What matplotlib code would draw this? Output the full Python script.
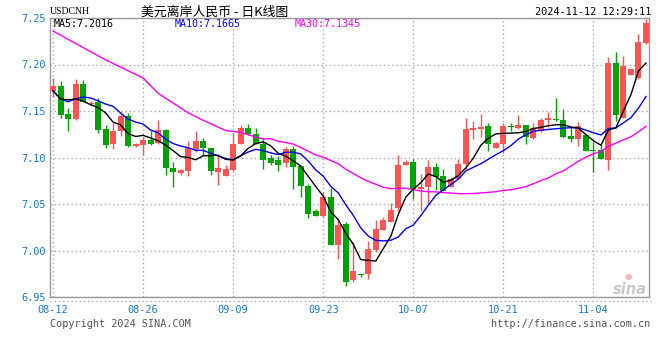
import matplotlib
matplotlib.use('Agg')
import matplotlib.pyplot as plt
from matplotlib.lines import Line2D
import pandas as pd

# daily OHLC, USD/CNH, 2024-08-12 .. 2024-11-12 (sina daily K, incl. saturdays)
opens = [7.171, 7.177, 7.147, 7.141, 7.179, 7.158, 7.160, 7.131, 7.115, 7.128,
         7.145, 7.112, 7.113, 7.119, 7.116, 7.130, 7.089, 7.083, 7.086, 7.109,
         7.118, 7.110, 7.084, 7.080, 7.087, 7.115, 7.132, 7.125, 7.115, 7.099,
         7.097, 7.094, 7.109, 7.091, 7.069, 7.043, 7.037, 7.057, 7.006, 7.029,
         6.968, 6.975, 6.975, 7.001, 7.022, 7.031, 7.046, 7.092, 7.095, 7.066,
         7.068, 7.090, 7.080, 7.068, 7.077, 7.093, 7.130, 7.131, 7.134, 7.110,
         7.115, 7.134, 7.132, 7.135, 7.121, 7.128, 7.140, 7.1405, 7.140, 7.123,
         7.120, 7.124, 7.108, 7.108, 7.097, 7.202, 7.142, 7.189, 7.185, 7.223]
highs = [7.186, 7.182, 7.153, 7.184, 7.183, 7.161, 7.164, 7.135, 7.137, 7.149,
         7.148, 7.116, 7.122, 7.128, 7.140, 7.131, 7.095, 7.088, 7.118, 7.129,
         7.121, 7.110, 7.103, 7.092, 7.126, 7.135, 7.136, 7.132, 7.120, 7.103,
         7.102, 7.111, 7.112, 7.091, 7.071, 7.045, 7.063, 7.067, 7.033, 7.031,
         7.009, 6.975, 7.010, 7.033, 7.036, 7.051, 7.103, 7.097, 7.098, 7.082,
         7.097, 7.094, 7.088, 7.079, 7.098, 7.143, 7.139, 7.147, 7.137, 7.117,
         7.137, 7.137, 7.146, 7.135, 7.137, 7.142, 7.149, 7.164, 7.152, 7.133,
         7.138, 7.124, 7.117, 7.114, 7.208, 7.213, 7.209, 7.195, 7.233, 7.249]
lows = [7.165, 7.143, 7.128, 7.140, 7.160, 7.156, 7.126, 7.110, 7.109, 7.123,
        7.111, 7.111, 7.103, 7.113, 7.114, 7.081, 7.068, 7.081, 7.080, 7.106,
        7.103, 7.081, 7.070, 7.080, 7.086, 7.114, 7.124, 7.114, 7.088, 7.092,
        7.086, 7.090, 7.066, 7.057, 7.035, 7.037, 7.036, 7.006, 6.991, 6.962,
        6.966, 6.972, 6.969, 6.998, 7.022, 7.031, 7.043, 7.092, 7.055, 7.043,
        7.050, 7.065, 7.064, 7.068, 7.077, 7.088, 7.120, 7.122, 7.107, 7.110,
        7.105, 7.129, 7.131, 7.114, 7.120, 7.127, 7.133, 7.139, 7.121, 7.117,
        7.112, 7.107, 7.084, 7.098, 7.087, 7.139, 7.142, 7.189, 7.184, 7.222]
closes = [7.177, 7.146, 7.141, 7.179, 7.160, 7.1585, 7.130, 7.113, 7.129, 7.145,
          7.112, 7.114, 7.119, 7.115, 7.130, 7.089, 7.084, 7.087, 7.110, 7.118,
          7.110, 7.085, 7.089, 7.088, 7.115, 7.132, 7.125, 7.115, 7.097, 7.094,
          7.092, 7.109, 7.090, 7.069, 7.039, 7.037, 7.057, 7.006, 7.027, 6.966,
          6.978, 6.974, 7.002, 7.023, 7.033, 7.044, 7.092, 7.095, 7.066, 7.068,
          7.090, 7.079, 7.064, 7.077, 7.093, 7.131, 7.132, 7.133, 7.115, 7.116,
          7.134, 7.133, 7.135, 7.122, 7.132, 7.140, 7.142, 7.140, 7.122, 7.120,
          7.134, 7.107, 7.107, 7.098, 7.202, 7.146, 7.198, 7.195, 7.224, 7.245]

# moving averages at the left edge need history before 08-12
ma5_head = [7.1715, 7.163, 7.162, 7.163]
ma10_head = [7.172, 7.163, 7.160, 7.163, 7.165, 7.164, 7.161, 7.1575, 7.155]
ma30_head_idx = [0, 7, 12, 14, 16, 18, 20, 23, 25, 27, 28]
ma30_head = [7.236, 7.205, 7.1855, 7.169, 7.1586, 7.148, 7.140, 7.129, 7.127, 7.122, 7.120]

tick_idx = [0, 12, 24, 36, 48, 60, 72]
tick_labels = ['08-12', '08-26', '09-09', '09-23', '10-07', '10-21', '11-04']
y_ticks = [6.95, 7.00, 7.05, 7.10, 7.15, 7.20, 7.25]

RED = '#ff5454'
GREEN = '#00a400'
BLUE_TXT = '#1a7ad0'

n = len(closes)
x = list(range(n))
s = pd.Series(closes)
ma5 = s.rolling(5).mean().tolist()
ma5[:4] = ma5_head
ma10 = s.rolling(10).mean().tolist()
ma10[:9] = ma10_head
ma30_full = s.rolling(30).mean().tolist()
ma30_x = ma30_head_idx + list(range(29, n))
ma30_y = ma30_head + ma30_full[29:]

W, H = 660, 360
fig = plt.figure(figsize=(6.6, 3.6), dpi=100)
ax = fig.add_axes([50 / W, 1 - 297 / H, 599 / W, 279 / H])

colors = [RED if c >= o else GREEN for o, c in zip(opens, closes)]
bottoms = [min(o, c) for o, c in zip(opens, closes)]
heights = [max(abs(c - o), 0.0009) for o, c in zip(opens, closes)]
ax.vlines(x, lows, highs, colors=colors, lw=1, zorder=2)
ax.bar(x, heights, bottom=bottoms, width=0.8, color=colors, linewidth=0, zorder=3)

ax.plot(ma30_x, ma30_y, color='#ff00ff', lw=1, zorder=4)
ax.plot(x, ma10, color='#0000ff', lw=1, zorder=4)
ax.plot(x, ma5, color='black', lw=1, zorder=4)

ax.set_xlim(-0.4, 79.4)
ax.set_ylim(6.95, 7.25)
ax.set_xticks(tick_idx)
ax.set_xticklabels(tick_labels)
ax.set_yticks(y_ticks)
ax.set_yticklabels([f'{v:.2f}' for v in y_ticks])
ax.tick_params(length=0, labelsize=7.4, labelcolor=BLUE_TXT)
ax.tick_params(axis='x', pad=6)
ax.tick_params(axis='y', pad=3)
ax.grid(True, ls=(0, (1, 2)), color='#aaaaaa', lw=1, zorder=0)
for sp in ax.spines.values():
    sp.set_color('#999999')
    sp.set_linewidth(1)
for lab in ax.get_xticklabels() + ax.get_yticklabels():
    lab.set_family('DejaVu Sans Mono')

fig.add_artist(Line2D([50 / W, 651 / W], [1 - 301 / H] * 2, color='#aaaaaa',
                      lw=1, ls=(0, (1, 2))))


def ftext(px, py, txt, **kw):
    fig.text(px / W, 1 - py / H, txt, **kw)


mono = 'DejaVu Sans Mono'
ftext(50, 12, 'USDCNH', family='Liberation Serif', fontsize=7, va='center')
ftext(141, 12, '美元离岸人民币 - 日K线图', family=['Noto Sans CJK SC', 'DejaVu Sans'],
      fontsize=9.3, va='center')
ftext(651, 12, '2024-11-12 12:29:11', family=mono, fontsize=7.4, va='center', ha='right')
ftext(54, 24, 'MA5:7.2016', family=mono, fontsize=7.2, va='center', color='black')
ftext(175, 24, 'MA10:7.1665', family=mono, fontsize=7.2, va='center', color='#0000ff')
ftext(295, 24, 'MA30:7.1345', family=mono, fontsize=7.2, va='center', color='#ff00ff')
ftext(50, 324, 'Copyright 2024 SINA.COM', family=mono, fontsize=7.3, va='center', color='#555555')
ftext(650, 324, 'http://finance.sina.com.cn', family=mono, fontsize=7.3, va='center',
      ha='right', color='#555555')
ftext(647, 290, 'sina', family='DejaVu Sans', fontsize=10.5, style='italic', weight='bold',
      va='center', ha='right', color='#c8c8c8')
ftext(628, 276.5, '●', family='DejaVu Sans', fontsize=6, va='center', ha='center', color='#f3b7b7')

fig.savefig('out.png', dpi=100)
